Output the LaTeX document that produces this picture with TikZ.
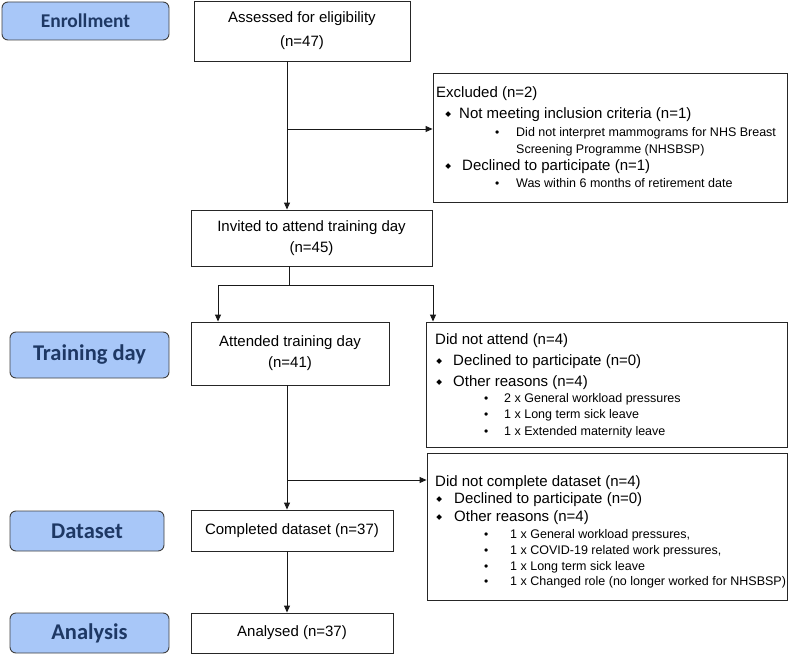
\documentclass[tikz,border=0pt]{standalone}
\usepackage{fontspec}
\setmainfont{Liberation Sans}
\newfontfamily\carl{Carlito}
\newfontfamily\djv{DejaVu Sans}
\usetikzlibrary{arrows.meta}
\definecolor{lblfill}{RGB}{168,199,248}
\definecolor{lbltext}{RGB}{30,56,100}
\newcommand{\dmd}{\makebox[0pt][c]{\raisebox{1.6pt}{\djv\fontsize{7.5}{7.5}\selectfont ◆}}}
\newcommand{\sdot}{\makebox[0pt][c]{\fontsize{12}{12}\selectfont •}}
\tikzset{
  box/.style={draw=black!85, line width=0.9pt, fill=white, align=center, inner sep=0pt, font=\fontsize{15}{21}\selectfont},
  frame/.style={draw=black!85, line width=0.9pt, fill=white, inner sep=0pt},
  lbl/.style={draw=black!75, line width=0.9pt, fill=lblfill, rounded corners=6pt, text=lbltext, inner sep=0pt, font=\carl\bfseries\fontsize{22.5}{24}\selectfont},
  ln/.style={line width=0.9pt, draw=black!90},
  arr/.style={-{Triangle[length=7pt,width=6pt]}},
  tb/.style={anchor=base west, inner sep=0pt, font=\fontsize{15}{18}\selectfont},
  ts/.style={anchor=base west, inner sep=0pt, font=\fontsize{12.5}{15}\selectfont}
}
\begin{document}
\begin{tikzpicture}[x=1pt,y=-1pt]
\useasboundingbox (0,0) rectangle (797,655);
% stage labels
\node[lbl, minimum width=167pt, minimum height=38pt, font=\carl\bfseries\fontsize{19.5}{21}\selectfont] (enr) at (85.5,21) {Enrollment};
\node[lbl, minimum width=159pt, minimum height=46pt] (trn) at (89.5,355) {Training day};
\node[lbl, minimum width=154pt, minimum height=40pt] (dat) at (87,531) {Dataset};
\node[lbl, minimum width=159pt, minimum height=40pt] (anl) at (89.5,633) {Analysis};
% main boxes
\node[box, minimum width=216pt, minimum height=60pt, font=\fontsize{15}{24}\selectfont] (ass) at (302,31) {Assessed for eligibility\\(n=47)};
\node[box, minimum width=241pt, minimum height=56pt] (inv) at (311.5,238) {Invited to attend training day\\(n=45)};
\node[box, minimum width=198pt, minimum height=63pt] (att) at (290,353.5) {Attended training day\\(n=41)};
\node[box, minimum width=202pt, minimum height=41pt] (cmp) at (292,530.5) {Completed dataset (n=37)};
\node[box, minimum width=202pt, minimum height=40pt] (ana) at (292,633) {Analysed (n=37)};
% side boxes
\node[frame, minimum width=354pt, minimum height=129pt] (exc) at (610,137.5) {};
\node[frame, minimum width=361pt, minimum height=125pt] (dna) at (606.5,384.5) {};
\node[frame, minimum width=360pt, minimum height=147pt] (dnc) at (607,526.5) {};
% excluded text
\node[tb] (e1) at (436,97.5) {Excluded (n=2)};
\node[tb] (e2) at (448,118.5) {\dmd\hspace{11pt}Not meeting inclusion criteria (n=1)};
\node[ts] (e3) at (497,137) {\sdot\hspace{19pt}Did not interpret mammograms for NHS Breast};
\node[ts] (e4) at (516,154) {Screening Programme (NHSBSP)};
\node[tb] (e5) at (448,170.5) {\dmd\hspace{14pt}Declined to participate (n=1)};
\node[ts] (e6) at (497,187) {\sdot\hspace{19pt}Was within 6 months of retirement date};
% did not attend text
\node[tb] (a1) at (435,344.5) {Did not attend (n=4)};
\node[tb] (a2) at (439,365.5) {\dmd\hspace{14pt}Declined to participate (n=0)};
\node[tb] (a3) at (439,386.5) {\dmd\hspace{14pt}Other reasons (n=4)};
\node[ts] (a4) at (486,402.7) {\sdot\hspace{18pt}2 x General workload pressures};
\node[ts] (a5) at (486,418.7) {\sdot\hspace{18pt}1 x Long term sick leave};
\node[ts] (a6) at (486,435.7) {\sdot\hspace{18pt}1 x Extended maternity leave};
% did not complete text
\node[tb] (c1) at (435,486.5) {Did not complete dataset (n=4)};
\node[tb] (c2) at (439,503.5) {\dmd\hspace{15pt}Declined to participate (n=0)};
\node[tb] (c3) at (439,521.5) {\dmd\hspace{15pt}Other reasons (n=4)};
\node[ts] (c4) at (486,538.7) {\sdot\hspace{24pt}1 x General workload pressures,};
\node[ts] (c5) at (486,554.7) {\sdot\hspace{24pt}1 x COVID-19 related work pressures,};
\node[ts] (c6) at (486,570.7) {\sdot\hspace{24pt}1 x Long term sick leave};
\node[ts] (c7) at (486,585.7) {\sdot\hspace{24pt}1 x Changed role (no longer worked for NHSBSP)};
% connectors
\coordinate (j1) at (287,129);
\draw[ln,arr] (ass.south -| j1) -- (inv.north -| j1);
\draw[ln,arr] (j1) -- (exc.west |- j1);
\coordinate (j2) at (289,285);
\coordinate (j3) at (218,285);
\coordinate (j4) at (433,285);
\draw[ln] (inv.south -| j2) -- (j2);
\draw[ln,arr] (j2) -- (j3) -- (att.north -| j3);
\draw[ln,arr] (j2) -- (j4) -- (dna.north -| j4);
\coordinate (j5) at (287,480);
\draw[ln,arr] (att.south -| j5) -- (cmp.north -| j5);
\draw[ln,arr] (j5) -- (dnc.west |- j5);
\draw[ln,arr] (cmp.south -| j5) -- (ana.north -| j5);
\end{tikzpicture}
\end{document}
